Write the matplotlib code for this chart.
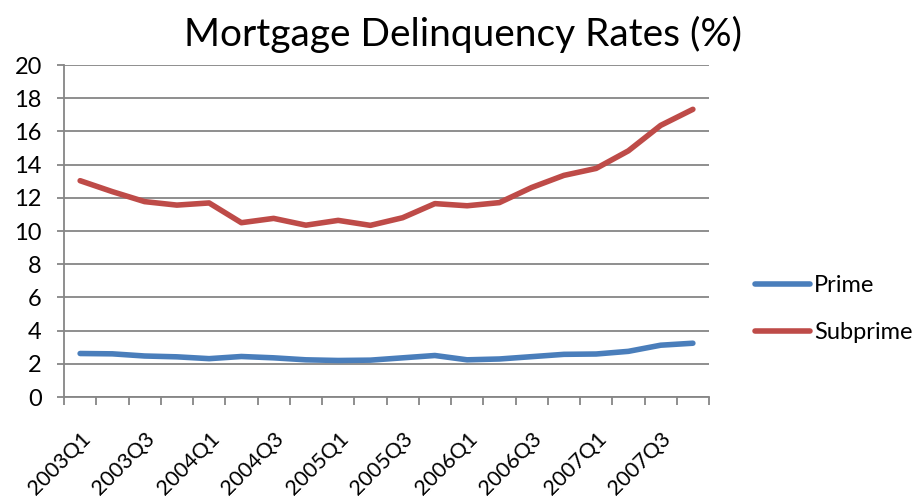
import matplotlib
matplotlib.use("Agg")
import matplotlib.pyplot as plt
import numpy as np

plt.rcParams['font.family'] = ['Lato', 'DejaVu Sans']

quarters = [f"{y}Q{q}" for y in range(2003, 2008) for q in range(1, 5)]
prime = [2.62, 2.60, 2.47, 2.42, 2.31, 2.44, 2.36, 2.24, 2.20, 2.22, 2.36, 2.50,
         2.24, 2.29, 2.43, 2.57, 2.59, 2.75, 3.12, 3.24]
subprime = [13.03, 12.37, 11.77, 11.56, 11.69, 10.50, 10.76, 10.35, 10.64, 10.34,
            10.80, 11.65, 11.52, 11.71, 12.62, 13.35, 13.77, 14.83, 16.36, 17.33]
series_names = ["Prime", "Subprime"]
colors = ["#4A7EBB", "#BE4B48"]

fig = plt.figure(figsize=(9.17, 5.0), dpi=100)
ax = fig.add_axes([64/917, 103/500, 645/917, 332/500])

x = np.arange(len(quarters))
ax.plot(x, prime, color=colors[0], lw=4, solid_capstyle='round', label=series_names[0])
ax.plot(x, subprime, color=colors[1], lw=4, solid_capstyle='round', label=series_names[1])

ax.set_xlim(-0.5, len(quarters) - 0.5)
ax.set_ylim(0, 20)
ax.set_yticks(range(0, 21, 2))
ax.grid(axis='y', color='#868686', lw=1.3)
ax.set_axisbelow(True)

gc = '#868686'
for s in ['top', 'right']:
    ax.spines[s].set_visible(False)
for s in ['left', 'bottom']:
    ax.spines[s].set_color(gc)
    ax.spines[s].set_linewidth(1.3)

ax.set_xticks(x[::2])
ax.set_xticklabels(quarters[::2], rotation=45, ha='right', va='top',
                   rotation_mode='anchor', fontsize=15.5)
ax.set_xticks(np.arange(-0.5, len(quarters), 1), minor=True)
ax.tick_params(axis='x', which='major', length=0, pad=23)
ax.tick_params(axis='x', which='minor', length=6, width=1.3, color=gc)
ax.tick_params(axis='y', length=5, width=1.3, color=gc, labelsize=17, pad=11)

fig.text(0.505, 0.932, "Mortgage Delinquency Rates (%)", ha='center', va='center', fontsize=28)

leg = ax.legend(loc='center left', bbox_to_anchor=(734/917, 1 - 309/500),
                bbox_transform=fig.transFigure, frameon=False, fontsize=17,
                handlelength=2.33, handletextpad=0.17, labelspacing=1.12)
for h in leg.get_lines():
    h.set_linewidth(4)

fig.savefig("out.png", dpi=100)
